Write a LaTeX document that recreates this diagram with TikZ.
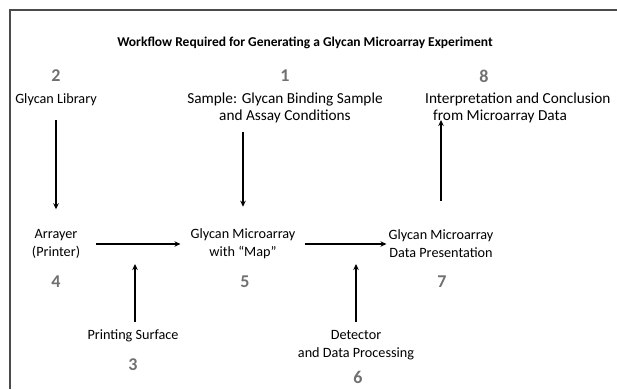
\documentclass[tikz,border=0pt]{standalone}
\usepackage{fontspec}
\setmainfont{Carlito}
\usetikzlibrary{arrows.meta,positioning}
\definecolor{numgray}{RGB}{112,112,112}
\definecolor{framegray}{RGB}{75,75,75}

\begin{document}
\begin{tikzpicture}[x=1pt, y=-1pt,
  labeltext/.style={font=\fontsize{14.2}{18}\selectfont, align=center, inner sep=1pt},
  toptext/.style={font=\fontsize{15.3}{16.5}\selectfont, align=center, inner sep=1pt},
  stepno/.style={font=\fontsize{18}{18}\selectfont\bfseries, text=numgray, inner sep=1pt},
  flow/.style={-{Stealth[length=6pt,width=5.5pt]}, line width=1.2pt}]
\useasboundingbox (0,0) rectangle (617,389);
% frame
\draw[framegray, line width=1.5pt] (10,389) -- (10,10) -- (617,10);
% title
\node[font=\fontsize{13.5}{16}\selectfont\bfseries] (title) at (305,43)
  {Workflow Required for Generating a Glycan Microarray Experiment};
% top row
\node[stepno] (n2) at (56,76) {2};
\node[labeltext] (lib) at (56,100) {Glycan Library};
\node[stepno] (n1) at (285,76) {1};
\node[toptext] (sample) at (285,108)
  {Sample: Glycan Binding Sample\\and Assay Conditions};
\node[stepno] (n8) at (484,76) {8};
\node[toptext, align=left, anchor=west] (interp) at (424,108)
  {Interpretation and Conclusion\\\hspace*{8pt}from Microarray Data};
% middle row
\node[labeltext] (arrayer) at (56,244) {Arrayer\\(Printer)};
\node[stepno] (n4) at (56,282) {4};
\node[labeltext] (map) at (243,244) {Glycan Microarray\\with “Map”};
\node[stepno] (n5) at (245,282) {5};
\node[labeltext] (pres) at (441,244) {Glycan Microarray\\Data Presentation};
\node[stepno] (n7) at (442,282) {7};
% bottom row
\node[labeltext] (surf) at (133,336) {Printing Surface};
\node[stepno] (n3) at (133,365) {3};
\node[labeltext] (det) at (356,345) {Detector\\and Data Processing};
\node[stepno] (n6) at (358,377) {6};
% connectors
\coordinate (surftip) at (135,264);
\coordinate (dettip) at (356,264);
\draw[flow] ([yshift=-13pt]lib.south) -- ([yshift=19pt]arrayer.north);
\draw[flow] ([yshift=-8pt]sample.south -| map.north) -- ([yshift=21pt]map.north);
\draw[flow] ([yshift=28pt]pres.north) -- ([yshift=4pt]pres.north |- interp.south);
\draw[flow] ([xshift=15pt]arrayer.east) -- ([xshift=-9pt]map.west);
\draw[flow] ([xshift=8pt]map.east) -- ([xshift=-1pt]pres.west);
\draw[flow] ([yshift=7pt]surf.north -| surftip) -- (surftip);
\draw[flow] ([yshift=7pt]det.north) -- (dettip);
\end{tikzpicture}
\end{document}
